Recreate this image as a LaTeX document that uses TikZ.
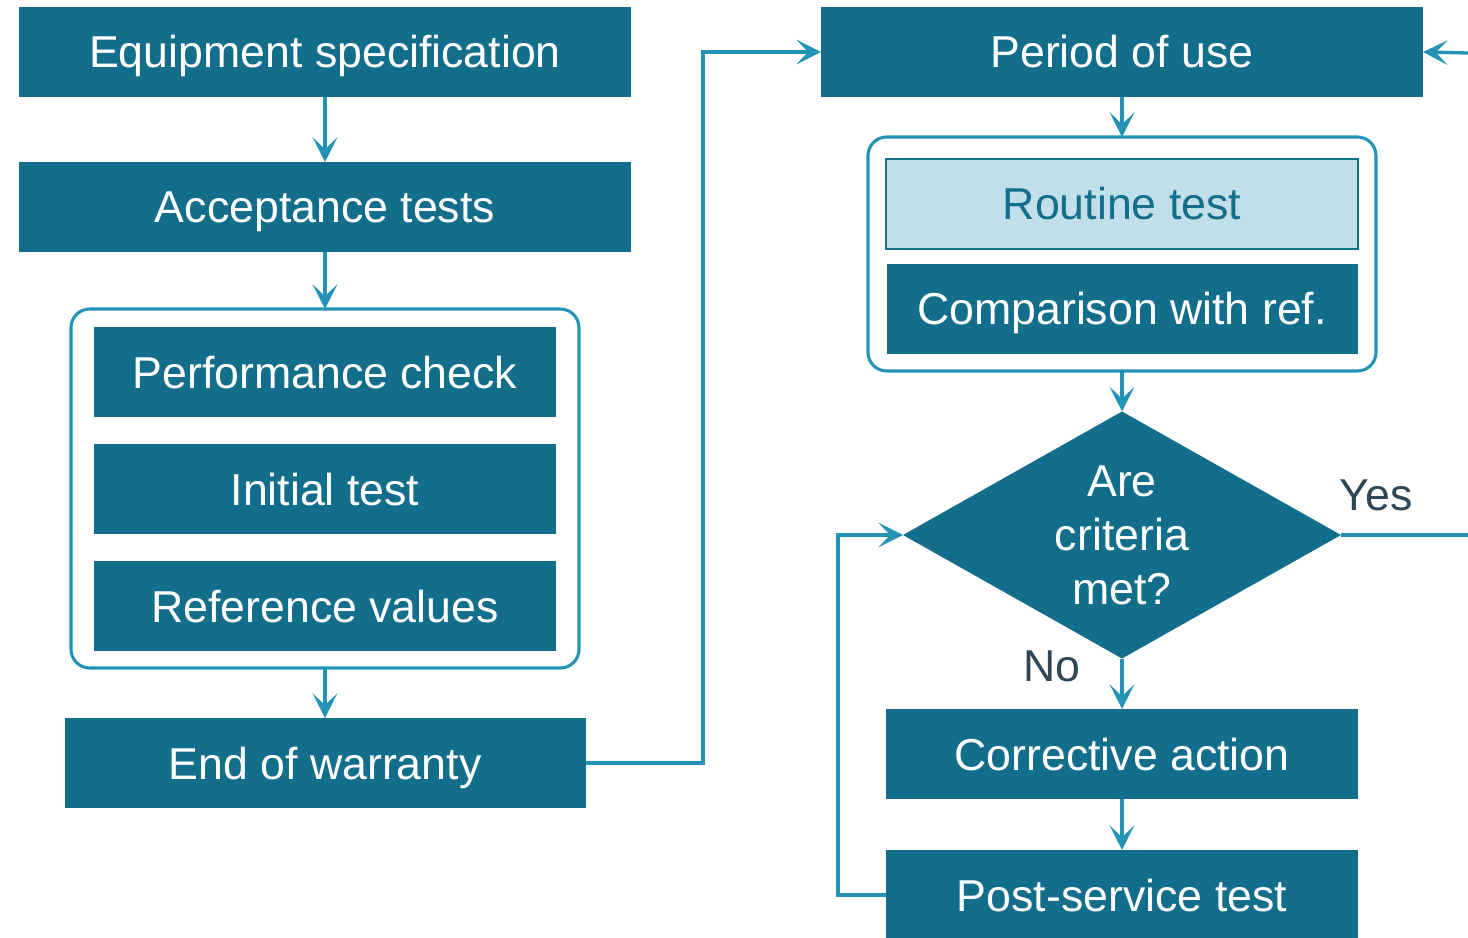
\documentclass[tikz,border=0pt]{standalone}
\usepackage{fontspec}
\setmainfont{Liberation Sans}
\usetikzlibrary{arrows.meta,shapes.geometric}
\definecolor{dteal}{HTML}{126E8A}
\definecolor{lblue}{HTML}{2393B5}
\definecolor{lfill}{HTML}{C0DFE8}
\definecolor{labtxt}{HTML}{2E4656}
\newcommand{\pxu}{0.75pt}
\newcommand{\bigfnt}{\fontsize{33.5}{40.5}\selectfont}
\begin{document}
\begin{tikzpicture}[x=0.75pt,y=-0.75pt,
  mybox/.style={rectangle, fill=dteal, text=white, inner sep=0pt, outer sep=0pt, font=\bigfnt, text height=24pt, text depth=0pt},
  grpbox/.style={rectangle, draw=lblue, line width=2.3pt, rounded corners=14pt, inner sep=0pt, outer sep=0pt},
  conn/.style={draw=lblue, line width=2.5pt},
  arr/.style={conn, -{Stealth[length=18.5pt, width=18.5pt, inset=9pt]}},
  lab/.style={text=labtxt, font=\bigfnt, inner sep=0pt}]
\useasboundingbox (0,0) rectangle (1468,938);
% left column
\node[mybox, minimum width=612*\pxu, minimum height=90*\pxu] (equip) at (325,52) {Equipment specification};
\node[mybox, minimum width=612*\pxu, minimum height=90*\pxu] (accept) at (325,207) {Acceptance tests};
\node[grpbox, minimum width=508*\pxu, minimum height=359*\pxu] (grp1) at (325,488.5) {};
\node[mybox, minimum width=462*\pxu, minimum height=90*\pxu] (perf) at (325,372) {Performance check};
\node[mybox, minimum width=462*\pxu, minimum height=90*\pxu] (init) at (325,489) {Initial test};
\node[mybox, minimum width=462*\pxu, minimum height=90*\pxu] (refv) at (325,606) {Reference values};
\node[mybox, minimum width=521*\pxu, minimum height=90*\pxu] (warr) at (325,763) {End of warranty};
% right column
\node[mybox, minimum width=602*\pxu, minimum height=90*\pxu] (period) at (1122,52) {Period of use};
\node[grpbox, minimum width=508*\pxu, minimum height=234*\pxu] (grp2) at (1122,254) {};
\node[rectangle, fill=lfill, draw=dteal, line width=1.6pt, text=dteal, inner sep=0pt, outer sep=0pt, font=\bigfnt,
  text height=24pt, text depth=0pt,
  minimum width=472*\pxu, minimum height=90*\pxu] (routine) at (1122,204) {Routine test};
\node[mybox, minimum width=471*\pxu, minimum height=90*\pxu] (comp) at (1122,309) {Comparison with ref.};
\node[diamond, aspect=1.77, fill=dteal, text=white, inner sep=0pt, outer sep=0pt, font=\bigfnt, align=center,
  minimum width=438*\pxu, minimum height=247*\pxu] (dia) at (1122,535) {Are\\criteria\\met?};
\node[mybox, minimum width=472*\pxu, minimum height=90*\pxu] (corr) at (1122,754) {Corrective action};
\node[mybox, minimum width=472*\pxu, minimum height=90*\pxu] (post) at (1122,895) {Post-service test};
\node[lab] (yes) at (1376,495) {Yes};
\node[lab] (no) at (1052,666) {No};
% coordinates
\coordinate (j1) at (703,400);
\coordinate (j2) at (838,700);
\coordinate (rin) at (1468,53);
\coordinate (yesend) at (1468,535);
% connectors
\draw[arr] (equip.south) -- (accept.north);
\draw[arr] (accept.south) -- (grp1.north);
\draw[arr] (grp1.south) -- (warr.north);
\draw[arr] (warr.east) -| (j1) |- (period.west);
\draw[arr] (rin) -- (period.east);
\draw[arr] (period.south) -- (grp2.north);
\draw[arr] (grp2.south) -- (dia.north);
\draw[conn] (dia.east) -- (yesend);
\draw[arr] (dia.south) -- (corr.north);
\draw[arr] (corr.south) -- (post.north);
\draw[arr] (post.west) -| (j2) |- (dia.west);
\end{tikzpicture}
\end{document}
